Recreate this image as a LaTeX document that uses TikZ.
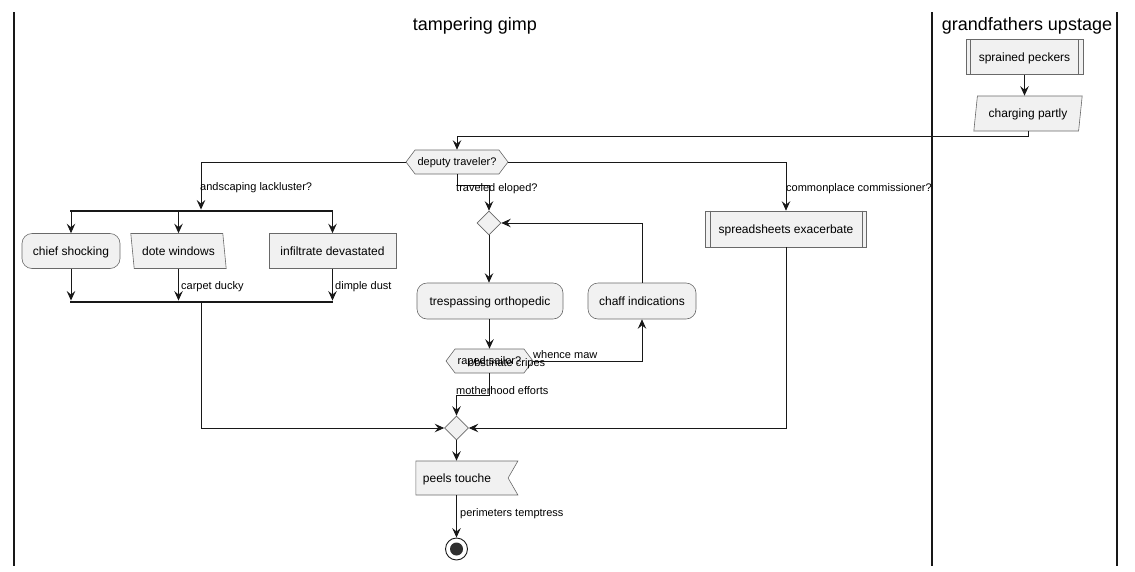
\documentclass[tikz,border=0pt]{standalone}
\usepackage{fontspec}
\setmainfont{Liberation Sans}
\usetikzlibrary{shapes.symbols,shapes.geometric,arrows.meta,positioning}
\definecolor{boxfill}{HTML}{F1F1F1}
\definecolor{boxline}{HTML}{181818}

\begin{document}
\begin{tikzpicture}[
    x=1pt, y=-1pt,
    box/.style={rectangle, draw=boxline!65, line width=0.6pt, fill=boxfill, minimum height=35pt, inner sep=0pt, text height=9.6pt, text depth=1.6pt, font=\fontsize{12}{14}\selectfont},
    act/.style={box, rounded corners=10pt},
    para/.style={box, trapezium, trapezium stretches=true},
    cond/.style={box, signal, signal to=east and west, signal pointer angle=106, minimum height=24pt, text height=8.8pt, text depth=1.4pt, font=\fontsize{11}{13}\selectfont},
    joint/.style={box, diamond, aspect=1, minimum width=24pt, minimum height=24pt, text height=0pt, text depth=0pt},
    bar/.style={rectangle, fill=boxline, inner sep=0pt, minimum height=2.5pt},
    lbl/.style={anchor=west, inner sep=1pt, font=\fontsize{11}{13}\selectfont},
    arrow/.style={-{Stealth[length=9.5pt, width=8.5pt, inset=3.5pt]}, line width=0.9pt, draw=boxline},
    lane/.style={line width=1.4pt, draw=boxline},
    lanetitle/.style={font=\fontsize{18}{21}\selectfont}
]
\useasboundingbox (0,0) rectangle (1135,571);

% Couloirs
\draw[lane] (14,12) -- (14,566);
\draw[lane] (932,12) -- (932,566);
\draw[lane] (1117,12) -- (1117,566);
\node[lanetitle] (titleA) at (475,26) {tampering gimp};
\node[lanetitle] (titleB) at (1027,26) {grandfathers upstage};

% Couloir de droite
\node[box, minimum width=117pt] (sprained) at (1024.5,57) {sprained peckers};
\draw[boxline!65, line width=0.6pt] ([xshift=5pt]sprained.north west) -- ([xshift=5pt]sprained.south west);
\draw[boxline!65, line width=0.6pt] ([xshift=-5pt]sprained.north east) -- ([xshift=-5pt]sprained.south east);
\node[para, trapezium left angle=76, trapezium right angle=104, minimum width=109pt] (charging) at (1028,113.5) {charging partly};
\draw[arrow] (sprained.south) -- (sprained.south |- charging.north);

% Premier choix
\node[cond, minimum width=102pt] (deputy) at (457,162) {deputy traveler?};
\draw[arrow] (charging.south) -- ++(0,5) -| (deputy.north);

% Branche gauche (fourche)
\node[bar, minimum width=263pt] (forkA) at (201,211) {};
\node[act, minimum width=98pt] (chief) at (71,251) {chief shocking};
\node[para, trapezium left angle=104, trapezium right angle=76, minimum width=96pt] (dote) at (178.5,251) {dote windows};
\node[box, minimum width=127pt] (infil) at (332.5,251) {infiltrate devastated};
\node[bar, minimum width=263pt] (forkB) at (201,302) {};
\draw[arrow] (deputy.west) -| (forkA.north);
\node[lbl] (lblA) at (199,188) {andscaping lackluster?};
\draw[arrow] (chief.north |- forkA.south) -- (chief.north);
\draw[arrow] (dote.north |- forkA.south) -- (dote.north);
\draw[arrow] (infil.north |- forkA.south) -- (infil.north);
\draw[arrow] (chief.south) -- (chief.south |- forkB.north);
\draw[arrow] (dote.south) -- (dote.south |- forkB.north);
\draw[arrow] (infil.south) -- (infil.south |- forkB.north);
\node[lbl] (lblB) at (180,287) {carpet ducky};
\node[lbl] (lblC) at (334,287) {dimple dust};

% Branche du milieu (boucle)
\node[joint] (loop) at (489,223) {};
\node[act, minimum width=146pt, minimum height=36pt] (tresp) at (490,301) {trespassing orthopedic};
\node[act, minimum width=108pt, minimum height=36pt] (chaff) at (642,301) {chaff indications};
\node[cond, minimum width=87pt] (raped) at (489.5,361) {raped sailor?};
\draw[arrow] (deputy.south) -- ++(0,11) -| (loop.north);
\node[lbl] (lblD) at (455,189) {traveled eloped?};
\draw[arrow] (loop.south) -- (loop.south |- tresp.north);
\draw[arrow] (tresp.south -| raped.north) -- (raped.north);
\draw[arrow] (raped.east) -| (chaff.south);
\draw[arrow] (chaff.north) |- (loop.east);
\node[lbl] (lblE) at (532,355) {whence maw};
\node[lbl] (lblF) at (467,364) {obstinate cripes};

% Branche droite
\node[box, minimum width=161pt, minimum height=36pt] (sheets) at (786,229) {spreadsheets exacerbate};
\draw[boxline!65, line width=0.6pt] ([xshift=5pt]sheets.north west) -- ([xshift=5pt]sheets.south west);
\draw[boxline!65, line width=0.6pt] ([xshift=-5pt]sheets.north east) -- ([xshift=-5pt]sheets.south east);
\draw[arrow] (deputy.east) -| (sheets.north);
\node[lbl] (lblG) at (785,189) {commonplace commissioner?};

% Fusion et fin
\node[joint] (merge) at (456.5,428) {};
\draw[arrow] (raped.south) -- ++(0,22) -| (merge.north);
\node[lbl] (lblH) at (455,391) {motherhood efforts};
\draw[arrow] (forkB.south) |- (merge.west);
\draw[arrow] (sheets.south) |- (merge.east);
\node[box, signal, signal to=nowhere, signal from=east, signal pointer angle=120, minimum width=102pt, minimum height=34pt] (peels) at (462,478) {\hspace*{-10pt}peels touche};
\draw[arrow] (merge.south) -- (merge.south |- peels.north);
\node[circle, draw=boxline, line width=0.9pt, fill=white, minimum size=22pt, inner sep=0pt] (fin) at (456.5,549) {};
\fill[boxline!90] (fin.center) circle (6.5);
\draw[arrow] (peels.south -| fin.north) -- (fin.north);
\node[lbl] (lblI) at (459,514) {perimeters temptress};

\end{tikzpicture}
\end{document}
